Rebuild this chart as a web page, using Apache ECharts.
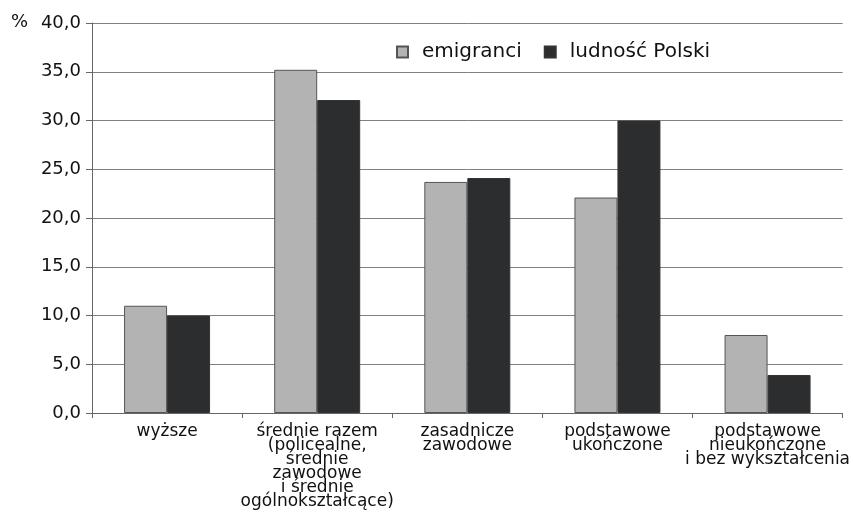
<!DOCTYPE html>
<html><head><meta charset="utf-8">
<script src="https://cdn.jsdelivr.net/npm/echarts@6/dist/echarts.min.js"></script>
<style>html,body{margin:0;padding:0;background:#fff}#c{width:853px;height:523px}</style>
</head><body><div id="c"></div>
<script>
const categories = ['wyższe', 'średnie razem\n(policealne,\nśrednie\nzawodowe\ni średnie\nogólnokształcące)', 'zasadnicze\nzawodowe', 'podstawowe\nukończone', 'podstawowe\nnieukończone\ni bez wykształcenia'];
const emigranci = [11.0, 35.2, 23.7, 22.1, 8.0];
const ludnosc = [10.0, 32.1, 24.1, 30.0, 3.9];
const seriesNames = ['emigranci', 'ludność Polski'];
const yMin = 0, yMax = 40, yStep = 5;

const font = 'DejaVu Sans';
const chart = echarts.init(document.getElementById('c'), null, {renderer: 'canvas'});
chart.setOption({
  animation: false,
  backgroundColor: '#ffffff',
  textStyle: {fontFamily: font, color: '#111111'},
  grid: {left: 92, right: 10, top: 23, bottom: 110, containLabel: false},
  legend: {
    left: 391, top: 37, itemWidth: 11, itemHeight: 11, itemGap: 22,
    icon: 'rect',
    textStyle: {fontFamily: font, fontSize: 20, color: '#111111', padding: [0, 0, 0, 9]},
    data: seriesNames
  },
  graphic: [{type: 'text', left: 11, top: 13, style: {text: '%', font: '18px "DejaVu Sans"', fill: '#111111'}}],
  xAxis: {
    type: 'category', data: categories,
    axisLine: {lineStyle: {color: '#666666', width: 1}},
    axisTick: {show: true, length: 5, lineStyle: {color: '#666666'}},
    axisLabel: {fontFamily: font, fontSize: 17, lineHeight: 14, color: '#111111', margin: 12, interval: 0, align: 'center'}
  },
  yAxis: {
    type: 'value', min: yMin, max: yMax, interval: yStep,
    axisLine: {show: true, lineStyle: {color: '#666666', width: 1}},
    axisTick: {show: true, length: 6, lineStyle: {color: '#666666'}},
    splitLine: {lineStyle: {color: '#808080', width: 1}},
    axisLabel: {fontFamily: font, fontSize: 18, color: '#111111', margin: 11,
      formatter: v => v.toFixed(1).replace('.', ',')}
  },
  series: [
    {name: seriesNames[0], type: 'bar', data: emigranci, barWidth: 43, barGap: '0%',
      itemStyle: {color: '#b3b3b3', borderColor: '#555555', borderWidth: 1}},
    {name: seriesNames[1], type: 'bar', data: ludnosc, barWidth: 43, barGap: '0%',
      itemStyle: {color: '#2b2d2e', borderColor: '#333333', borderWidth: 1}}
  ]
});
</script></body></html>
